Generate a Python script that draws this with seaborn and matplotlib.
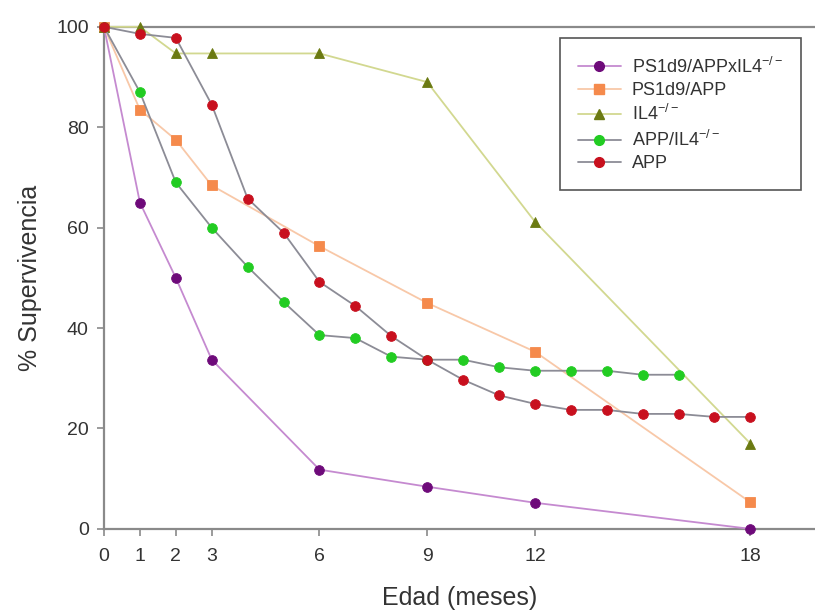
import numpy as np
import pandas as pd
import matplotlib
matplotlib.use('Agg')
import matplotlib.pyplot as plt
import seaborn as sns

# survival (%) per age in months
x_ps_il4 = [0, 1, 2, 3, 6, 9, 12, 18]
y_ps_il4 = [100, 65, 50, 33.7, 11.8, 8.4, 5.2, 0]

x_ps_app = [0, 1, 2, 3, 6, 9, 12, 18]
y_ps_app = [100, 83.5, 77.5, 68.4, 56.3, 45, 35.3, 5.3]

x_il4 = [0, 1, 2, 3, 6, 9, 12, 18]
y_il4 = [100, 100, 94.7, 94.7, 94.7, 89, 61.2, 17]

x_app_il4 = [0, 1, 2, 3, 4, 5, 6, 7, 8, 9, 10, 11, 12, 13, 14, 15, 16]
y_app_il4 = [100, 87, 69, 60, 52.2, 45.2, 38.6, 38, 34.3, 33.7, 33.7, 32.2, 31.5, 31.5, 31.5, 30.7, 30.7]

x_app = [0, 1, 2, 3, 4, 5, 6, 7, 8, 9, 10, 11, 12, 13, 14, 15, 16, 17, 18]
y_app = [100, 98.6, 97.8, 84.5, 65.8, 59, 49.2, 44.4, 38.4, 33.7, 29.7, 26.6, 24.9, 23.7, 23.7, 22.9, 22.9, 22.3, 22.3]

labels = [r'PS1d9/APPxIL4$^{-/-}$', 'PS1d9/APP', r'IL4$^{-/-}$', r'APP/IL4$^{-/-}$', 'APP']
xticks = [0, 1, 2, 3, 6, 9, 12, 18]

sns.set_style("white")
plt.rcParams['font.family'] = ['Liberation Sans', 'DejaVu Sans']
plt.rcParams['mathtext.fontset'] = 'custom'
plt.rcParams['mathtext.rm'] = 'Liberation Sans'
plt.rcParams['mathtext.it'] = 'Liberation Sans'
plt.rcParams['mathtext.default'] = 'regular'

fig = plt.figure(figsize=(8.15, 6.10), dpi=100)
ax = fig.add_axes([0.1276, 0.133, 0.8724, 0.823])

series = [
    (x_ps_il4, y_ps_il4, '#c58ad0', 'o', '#6e0a7a', 7),
    (x_ps_app, y_ps_app, '#f8c8a8', 's', '#f58a4c', 6.5),
    (x_il4, y_il4, '#d2d890', '^', '#6b7a12', 7),
    (x_app_il4, y_app_il4, '#8c8c96', 'o', '#22cc22', 7),
    (x_app, y_app, '#8c8c96', 'o', '#c8101e', 7),
]

handles = []
for (xs, ys, lc, mk, mc, ms), lab in zip(series, labels):
    sns.lineplot(x=xs, y=ys, ax=ax, color=lc, lw=1.3, marker=mk,
                 markersize=ms, markerfacecolor=mc, markeredgecolor=mc,
                 markeredgewidth=0.6, clip_on=False, zorder=3)
    h, = ax.plot([], [], color=lc, lw=1.3, marker=mk, markersize=ms,
                 markerfacecolor=mc, markeredgecolor=mc, label=lab)
    handles.append(h)

ax.set_xlim(0, 19.8)
ax.set_ylim(0, 100)
ax.set_xticks(xticks)
ax.set_yticks([0, 20, 40, 60, 80, 100])

ax.spines['right'].set_visible(False)
for s in ['left', 'bottom', 'top']:
    ax.spines[s].set_color('#8a8a8a')
    ax.spines[s].set_linewidth(1.6)

ax.tick_params(axis='both', direction='out', length=5, width=1.2, color='#8a8a8a',
               labelsize=14, labelcolor='#333333', pad=6, bottom=True, left=True)
ax.tick_params(axis='x', pad=9)

ax.set_xlabel('Edad (meses)', fontsize=18, color='#333333', labelpad=15)
ax.set_ylabel('% Supervivencia', fontsize=18, color='#333333', labelpad=10)

leg = ax.legend(handles=handles, loc='upper right', bbox_to_anchor=(0.993, 0.995),
                fontsize=13, frameon=True, fancybox=False, framealpha=1,
                handlelength=2.4, handletextpad=0.6, labelspacing=0.3, borderpad=1.0)
leg.get_frame().set_edgecolor('#555555')
leg.get_frame().set_linewidth(1.2)
for t in leg.get_texts():
    t.set_color('#333333')

fig.savefig('out.png', dpi=100)
